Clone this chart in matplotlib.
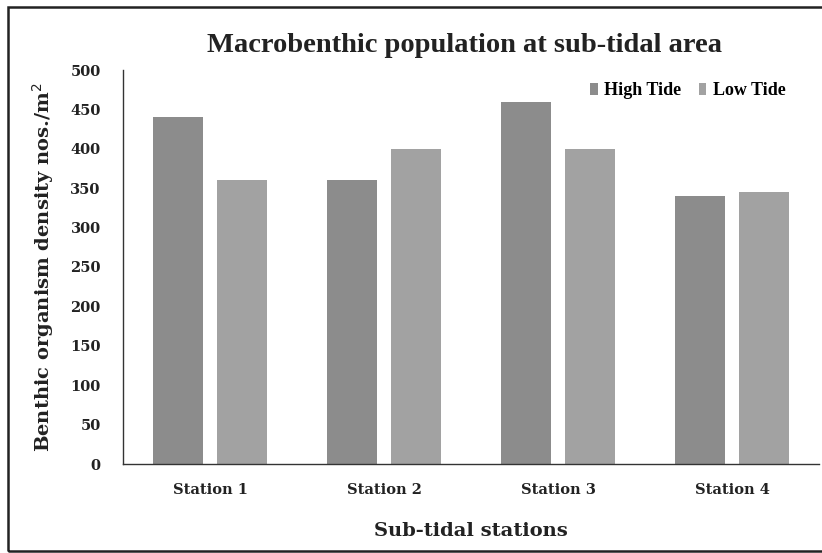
import matplotlib.pyplot as plt
from matplotlib.patches import Rectangle
import numpy as np

# Macrobenthic density per sub-tidal station
stations = ['Station 1', 'Station 2', 'Station 3', 'Station 4']
high_tide = [440, 360, 460, 340]
low_tide = [360, 400, 400, 345]
yticks = [0, 50, 100, 150, 200, 250, 300, 350, 400, 450, 500]

serif = 'DejaVu Serif'

fig = plt.figure(figsize=(8.22, 5.53), dpi=100)
fig.patch.set_facecolor('white')

# outer chart border (right side runs off the picture)
fig.add_artist(Rectangle((8 / 822, 1 - 551 / 553), 830 / 822, (551 - 7) / 553,
                         transform=fig.transFigure, fill=False,
                         edgecolor='#222222', linewidth=1.8))

ax = fig.add_axes([123 / 822, 1 - 464 / 553, (819 - 123) / 822, (464 - 70) / 553])

x = np.arange(len(stations))
w = 0.29
off = 0.185
ax.bar(x - off, high_tide, w, color='#8c8c8c', label='High Tide')
ax.bar(x + off, low_tide, w, color='#a2a2a2', label='Low Tide')

ax.set_xlim(-0.5, 3.5)
ax.set_ylim(0, 500)
ax.set_yticks(yticks)
ax.set_xticks(x)
ax.set_xticklabels(stations)
ax.tick_params(length=0, labelsize=10.5)
for lab in ax.get_xticklabels() + ax.get_yticklabels():
    lab.set_fontfamily(serif)
    lab.set_fontweight('bold')
    lab.set_color('#222222')
ax.tick_params(axis='x', pad=14)
ax.tick_params(axis='y', pad=16)

for s in ['top', 'right']:
    ax.spines[s].set_visible(False)
for s in ['left', 'bottom']:
    ax.spines[s].set_color('#333333')
    ax.spines[s].set_linewidth(1.0)

ax.set_ylabel('Benthic organism density nos./m$^2$', fontfamily=serif,
              fontweight='bold', fontsize=14, color='#222222', labelpad=10)
ax.set_xlabel('Sub-tidal stations', fontfamily=serif, fontweight='bold',
              fontsize=14, color='#222222', labelpad=18)

fig.text(464 / 822, 1 - 45 / 553, 'Macrobenthic population at sub-tidal area',
         ha='center', va='center', fontfamily='Liberation Serif',
         fontweight='bold', fontsize=20.5, color='#222222')

leg = ax.legend(loc='upper right', bbox_to_anchor=(0.975, 1.01), frameon=False,
                ncol=2, handlelength=0.4, handleheight=0.6, handletextpad=0.35,
                columnspacing=1.0, prop={'family': 'Liberation Serif',
                                         'weight': 'bold', 'size': 13})

fig.savefig('out.png', dpi=100)
